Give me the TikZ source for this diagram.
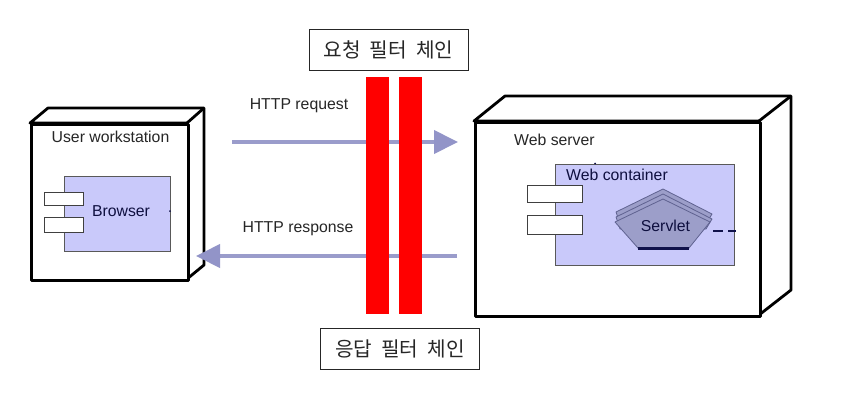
\documentclass[tikz,border=0pt]{standalone}
\usepackage{fontspec}
\setmainfont{Liberation Sans}
\newfontfamily\krfont{Noto Sans CJK KR}[Scale=1]
\usetikzlibrary{arrows.meta}
\definecolor{flow}{HTML}{9A9CCB}
\definecolor{headc}{HTML}{9294C8}
\definecolor{lilac}{HTML}{C9C9FA}
\definecolor{servfill}{HTML}{9C9EC9}
\definecolor{servline}{HTML}{5F6290}
\definecolor{navy}{HTML}{10124A}
\definecolor{labelc}{HTML}{262626}
\tikzset{
  x=1pt,y=-1pt,
  cube/.style={draw=black,line width=2.8pt,fill=white,line join=round},
  front/.style={cube,inner sep=0pt,anchor=north west},
  comp/.style={draw=black!65,line width=.6pt,fill=lilac,inner sep=0pt,anchor=north west},
  port/.style={draw=black!75,line width=.7pt,fill=white,inner sep=0pt,anchor=north west},
  filterbar/.style={fill=red,draw=none,inner sep=0pt,anchor=north west,minimum width=23pt,minimum height=237pt},
  chainbox/.style={draw=black!85,line width=.9pt,fill=white,inner sep=0pt,anchor=north west,minimum width=159pt,minimum height=41pt,font=\krfont\fontsize{20.2}{23}\selectfont,text=black!85},
  lbl/.style={font=\fontsize{15.8}{18}\selectfont,text=labelc,inner sep=0pt},
  flowline/.style={draw=flow,line width=4pt,-{Triangle[length=24pt,width=23pt,color=headc]}},
  servpoly/.style={draw=servline,line width=.8pt,fill=servfill,line join=round},
}
\begin{document}
\begin{tikzpicture}
\useasboundingbox (0,0) rectangle (854,400);
\fill[white] (0,0) rectangle (854,400);

% workstation cube
\draw[cube] (30,123) -- (48,108) -- (204,108) -- (204,265) -- (187,279) -- (187,123) -- cycle;
\draw[cube] (187,123) -- (204,108);
\node[front,minimum width=157pt,minimum height=156pt] (ws) at (30,123) {};
\node[lbl] (wslabel) at (110.5,137) {User workstation};
\node[comp,minimum width=106pt,minimum height=75pt] (browser) at (64,176) {};
\node[port,minimum width=39pt,minimum height=13pt] (bp1) at (44,192) {};
\node[port,minimum width=39pt,minimum height=15pt] (bp2) at (44,217) {};
\node[lbl,text=navy!85!black] (browserlabel) at (121,211) {Browser};
\fill[navy] (170,211) circle (1pt);

% server cube
\draw[cube] (474,121) -- (505,96) -- (791,96) -- (791,290) -- (759,315) -- (759,121) -- cycle;
\draw[cube] (759,121) -- (791,96);
\node[front,minimum width=285pt,minimum height=194pt] (srv) at (474,121) {};
\node[lbl,anchor=west] (srvlabel) at (514,140) {Web server};
\node[comp,minimum width=179pt,minimum height=101pt] (cont) at (555,164) {};
\node[port,minimum width=55pt,minimum height=17pt] (sp1) at (527,185) {};
\node[port,minimum width=55pt,minimum height=19pt] (sp2) at (527,215) {};
\node[lbl,anchor=west,text=navy!85!black] (contlabel) at (566,175) {Web container};
\fill[navy] (595,163.5) circle (1pt);

% servlet stack
\draw[servpoly] (616,212) -- (663,189) -- (712,214) -- (706,224) -- (620,224) -- cycle;
\draw[servpoly] (616,217) -- (663,194) -- (712,219) -- (706,229) -- (620,229) -- cycle;
\draw[servpoly] (615,222) -- (663,199) -- (710,222) -- (689,248) -- (638,248) -- cycle;
\draw[navy,line width=2.4pt] (638,248.5) -- (689,248.5);
\node[lbl,text=navy!85!black] (servlet) at (665.5,226) {Servlet};
\coordinate (servletout) at (713,231);
\coordinate (contedge) at (736,231);
\draw[navy,line width=2.8pt,dash pattern=on 10pt off 5pt] (servletout) -- (contedge);

% flows
\coordinate (reqa) at (232,142);
\coordinate (reqb) at (458,142);
\coordinate (resa) at (457,256);
\coordinate (resb) at (196,256);
\draw[flowline] (reqa) -- (reqb);
\draw[flowline] (resa) -- (resb);
\node[lbl] (reqlabel) at (299,106) {HTTP request};
\node[lbl] (reslabel) at (298,229) {HTTP response};

% filters
\node[filterbar] (f1) at (366,77) {};
\node[filterbar] (f2) at (399,77) {};
\node[chainbox] (reqchain) at (308.5,29) {요청\hspace{.45em}필터\hspace{.45em}체인};
\node[chainbox] (reschain) at (320,328) {응답\hspace{.45em}필터\hspace{.45em}체인};
\end{tikzpicture}
\end{document}
